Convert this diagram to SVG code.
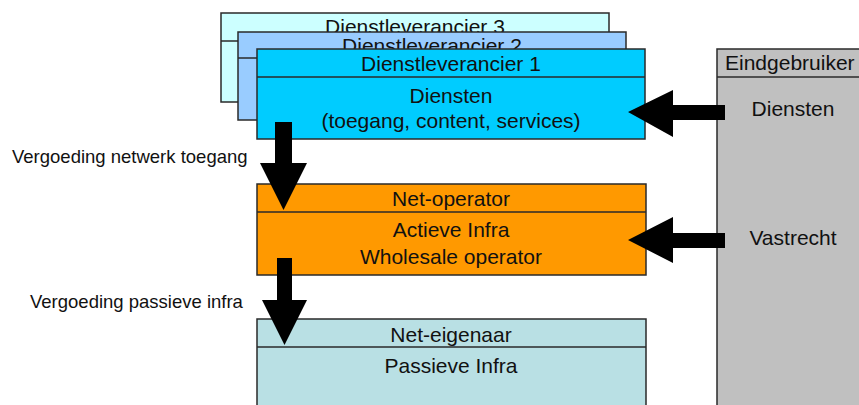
<svg xmlns="http://www.w3.org/2000/svg" width="859" height="405" viewBox="0 0 859 405">
<style>
.box{stroke:#2a2a2a;stroke-width:1.5}
.t{font-family:"Liberation Sans",Arial,sans-serif;font-size:21px;fill:#111;text-anchor:middle}
.lbl{font-family:"Liberation Sans",Arial,sans-serif;font-size:18.5px;fill:#111}
.arr{fill:#000}
</style>
<rect width="859" height="405" fill="#fff"/>
<g id="dienstleverancier3">
<rect class="box" x="221" y="13" width="388" height="89" fill="#ccffff"/>
<line class="box" x1="221" y1="41" x2="609" y2="41"/>
<text class="t" x="415" y="34">Dienstleverancier 3</text>
</g>
<g id="dienstleverancier2">
<rect class="box" x="238" y="32" width="388" height="88" fill="#99ccff"/>
<line class="box" x1="238" y1="58" x2="626" y2="58"/>
<text class="t" x="432" y="53">Dienstleverancier 2</text>
</g>
<g id="dienstleverancier1">
<rect class="box" x="257" y="49" width="388" height="90" fill="#00ccff"/>
<line class="box" x1="257" y1="77" x2="645" y2="77"/>
<text class="t" x="451" y="71">Dienstleverancier 1</text>
<text class="t" x="451" y="103">Diensten</text>
<text class="t" x="451" y="128">(toegang, content, services)</text>
</g>
<g id="net-operator">
<rect class="box" x="257" y="184" width="389" height="91" fill="#ff9900"/>
<line class="box" x1="257" y1="212" x2="646" y2="212"/>
<text class="t" x="451" y="206">Net-operator</text>
<text class="t" x="451" y="237">Actieve Infra</text>
<text class="t" x="451" y="264">Wholesale operator</text>
</g>
<g id="net-eigenaar">
<rect class="box" x="257" y="319" width="389" height="100" fill="#b9e0e4"/>
<line class="box" x1="257" y1="347" x2="646" y2="347"/>
<text class="t" x="451" y="342">Net-eigenaar</text>
<text class="t" x="451" y="373">Passieve Infra</text>
</g>
<g id="eindgebruiker">
<rect class="box" x="717" y="49" width="160" height="370" fill="#c0c0c0"/>
<line class="box" x1="717" y1="77" x2="877" y2="77"/>
<text class="t" x="725" y="70" style="text-anchor:start">Eindgebruiker</text>
<text class="t" x="793" y="116">Diensten</text>
<text class="t" x="793" y="245">Vastrecht</text>
</g>
<g id="connectors">
<polygon class="arr" points="275,122 292,122 292,163 307,163 283.5,210 260,163 275,163"/>
<polygon class="arr" points="277,258 292,258 292,300 307,300 284.5,345 262,300 277,300"/>
<polygon class="arr" points="725,105 725,120 673,120 673,137 628,112 673,90 673,105"/>
<polygon class="arr" points="725,233 725,248 673,248 673,263 628,240 673,217 673,233"/>
<text class="lbl" x="12" y="163">Vergoeding netwerk toegang</text>
<text class="lbl" x="30" y="308">Vergoeding passieve infra</text>
</g>
</svg>
